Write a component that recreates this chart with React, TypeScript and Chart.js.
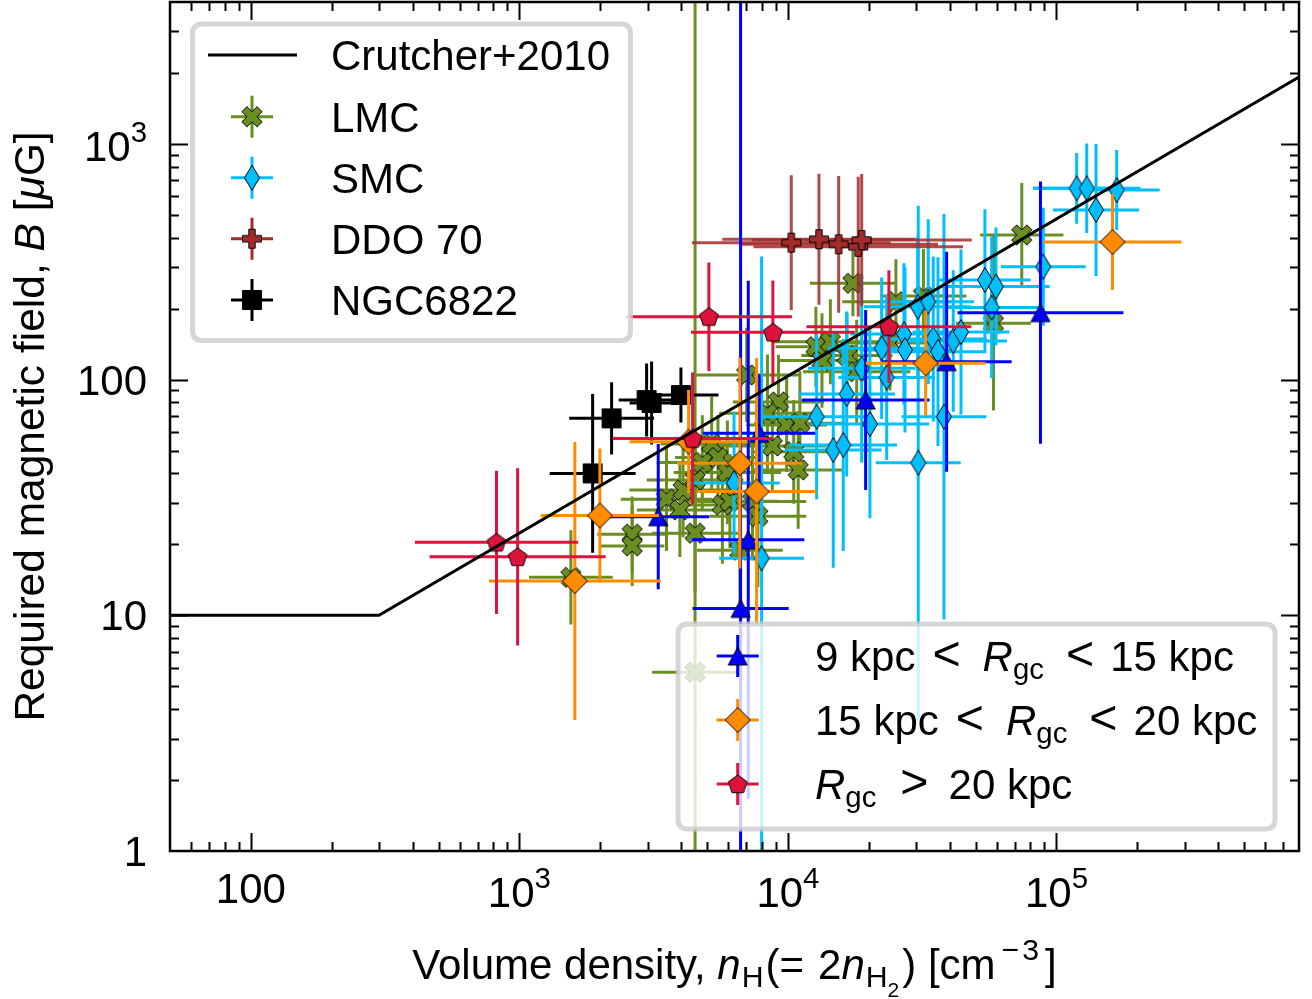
import React, { useEffect, useRef } from "react";
import { Chart, registerables } from "chart.js";
Chart.register(...registerables);

// ---------- axis ranges & ticks ----------
const X_MIN = 50;
const X_MAX = 800000;
const Y_MIN = 1;
const Y_MAX = 4000;
const xTicks = [100, 1000, 10000, 100000];
const xTickLabels = ["100", "10^3", "10^4", "10^5"];
const yTicks = [1, 10, 100, 1000];
const yTickLabels = ["1", "10", "100", "10^3"];

// ---------- Crutcher+2010 relation ----------
const crutcherN = [50, 300, 800000];
const crutcherB = [10, 10, 1923];

// ---------- LMC ----------
const lmcN = [2630, 2630, 3530, 3960, 4070, 4510, 4510, 4800, 5200, 5490, 5950, 5700, 6080, 6620, 7380, 7730, 7020, 9220, 8390, 9890, 11080, 8750, 10510, 10920, 12710, 14390, 13390, 16590, 18030, 17460, 25240, 31960, 58270, 74270, 4510, 23990, 1555];
const lmcB = [22.1, 19.7, 31.1, 28.0, 34.0, 22.3, 37.5, 44.5, 53.3, 46.7, 40.4, 29.4, 30.5, 18.9, 30.4, 26.3, 104.6, 80.4, 71.9, 64.2, 65.3, 52.3, 49.4, 41.4, 137.9, 144.8, 120.5, 126.5, 108.0, 256.2, 214.1, 226.2, 173.3, 410.8, 5.73, 142.9, 14.5];
const lmcErrN = [0.13, 0.12, 0.17, 0.16, 0.2, 0.16, 0.18, 0.17, 0.19, 0.16, 0.2, 0.15, 0.18, 0.16, 0.2, 0.18, 0.2, 0.17, 0.18, 0.15, 0.17, 0.2, 0.16, 0.17, 0.15, 0.22, 0.16, 0.17, 0.2, 0.16, 0.2, 0.16, 0.14, 0.155, 0.16, 0.18, 0.156];
const lmcErrB = [0.16, 0.17, 0.22, 0.2, 0.2, 0.25, 0.22, 0.2, 0.2, 0.18, 0.22, 0.25, 0.2, 0.22, 0.25, 0.3, 0.2, 0.2, 0.25, 0.2, 0.22, 0.2, 0.22, 0.25, 0.17, 0.18, 0.2, 0.18, 0.22, 0.14, 0.18, 0.2, 0.37, 0.22, 3, 0.2, 0.2];

// ---------- SMC ----------
const smcN = [6300, 7980, 12790, 14750, 16070, 16550, 18820, 20200, 22330, 23320, 27040, 27280, 30440, 33300, 30570, 34760, 36200, 38110, 41270, 44100, 54150, 59510, 57360, 89290, 118900, 129600, 140350, 167600];
const smcB = [36.4, 17.45, 69.6, 50.3, 52.8, 86.9, 111.7, 64.8, 135.8, 102.1, 156.1, 133.6, 203.8, 214.1, 44.4, 148.7, 131.4, 69.6, 145.8, 159.2, 264.6, 248.3, 202.2, 301.3, 648, 648, 524.3, 637.4];
const smcErrN = [0.17, 0.158, 0.2, 0.18, 0.2, 0.18, 0.2, 0.22, 0.2, 0.18, 0.2, 0.17, 0.2, 0.17, 0.158, 0.2, 0.18, 0.158, 0.2, 0.18, 0.17, 0.2, 0.18, 0.158, 0.16, 0.2, 0.16, 0.16];
const smcErrB = [0.3, 1.28, 0.35, 0.5, 0.45, 0.35, 0.4, 0.4, 0.3, 0.35, 0.3, 0.35, 0.3, 0.35, 1.09, 0.35, 0.4, 0.86, 0.3, 0.35, 0.3, 0.25, 0.3, 0.25, 0.15, 0.19, 0.28, 0.17];

// ---------- DDO 70 ----------
const ddoN = [10290, 13050, 15450, 18270, 18820];
const ddoB = [381, 394, 375, 366, 391];
const ddoErrN = [0.37, 0.36, 0.37, 0.39, 0.41];
const ddoErrB = [0.286, 0.278, 0.29, 0.297, 0.28];

// ---------- NGC6822 ----------
const ngcN = [1874, 2205, 2977, 3107, 3995];
const ngcB = [40.0, 68.5, 81.9, 79.6, 86.0];
const ngcErrN = [0.16, 0.158, 0.104, 0.082, 0.14];
const ngcErrB = [0.337, 0.153, 0.155, 0.176, 0.117];

// ---------- 9 kpc < Rgc < 15 kpc ----------
const innerN = [3289, 6664, 7116, 7818, 19470, 38990, 87170];
const innerB = [26.2, 10.7, 20.9, 59.2, 81.9, 119.1, 192.3];
const innerErrN = [0.19, 0.179, 0.209, 0.209, 0.238, 0.242, 0.309];
const innerErrB = [0.308, 2.7, 1.099, 0.25, 0.382, 0.467, 0.556];

// ---------- 15 kpc < Rgc < 20 kpc ----------
const midN = [1609, 1994, 4267, 6622, 7645, 32570, 161700];
const midB = [13.98, 26.5, 54.5, 44.2, 33.5, 117.3, 383.6];
const midErrN = [0.32, 0.22, 0.22, 0.233, 0.224, 0.223, 0.257];
const midErrB = [0.59, 0.284, 0.22, 0.447, 0.567, 0.223, 0.204];

// ---------- Rgc > 20 kpc ----------
const outerN = [822, 985, 4416, 5079, 8790, 23770];
const outerB = [20.4, 17.7, 56.2, 184.9, 158.7, 167.7];
const outerErrN = [0.304, 0.328, 0.298, 0.309, 0.305, 0.307];
const outerErrB = [0.304, 0.376, 0.28, 0.23, 0.22, 0.239];

const legend1Labels = ["Crutcher+2010", "LMC", "SMC", "DDO 70", "NGC6822"];

const FONT = '"Liberation Sans", Arial, Helvetica, sans-serif';
const FS = 42;

const C_LMC = "#6B8E23";
const C_SMC = "#00BFFF";
const C_DDO = "#A52A2A";
const C_NGC = "#000000";
const C_IN = "#0000FF";
const C_MID = "#FF8C00";
const C_OUT = "#DC143C";

type Seg = { t: string; it?: boolean; s?: number; dy?: number; gap?: number };

function setFont(ctx: CanvasRenderingContext2D, size: number, it?: boolean) {
  ctx.font = `${it ? "italic " : ""}${size}px ${FONT}`;
}
function segW(ctx: CanvasRenderingContext2D, g: Seg, size: number) {
  setFont(ctx, size * (g.s ?? 1), g.it);
  return ctx.measureText(g.t).width + (g.gap ?? 0);
}
function drawRich(ctx: CanvasRenderingContext2D, segs: Seg[], x: number, y: number, size: number, align: string) {
  let w = 0;
  for (const g of segs) w += segW(ctx, g, size);
  let cx = align === "center" ? x - w / 2 : align === "right" ? x - w : x;
  ctx.textAlign = "left";
  ctx.textBaseline = "alphabetic";
  for (const g of segs) {
    setFont(ctx, size * (g.s ?? 1), g.it);
    ctx.fillText(g.t, cx, y - (g.dy ?? 0) * size);
    cx += ctx.measureText(g.t).width + (g.gap ?? 0);
  }
}
function tickSegs(label: string): Seg[] {
  const parts = label.split("^");
  if (parts.length === 1) return [{ t: label }];
  return [{ t: parts[0] }, { t: parts[1], s: 0.7, dy: 0.45 }];
}

function makeMarker(kind: string, fill: string): HTMLCanvasElement {
  const S = 32;
  const c = document.createElement("canvas");
  c.width = S;
  c.height = S;
  const g = c.getContext("2d")!;
  g.translate(S / 2, S / 2);
  g.beginPath();
  const poly = (pts: number[][]) => {
    pts.forEach(([a, b], i) => (i ? g.lineTo(a, b) : g.moveTo(a, b)));
    g.closePath();
  };
  const plus = [[-1, -3], [-1, -1], [-3, -1], [-3, 1], [-1, 1], [-1, 3], [1, 3], [1, 1], [3, 1], [3, -1], [1, -1], [1, -3]];
  if (kind === "X") {
    const s = 21.5 / 6, r = Math.SQRT1_2;
    poly(plus.map(([a, b]) => [(a - b) * r * s, (a + b) * r * s]));
  } else if (kind === "P") {
    const s = 19 / 6;
    poly(plus.map(([a, b]) => [a * s, b * s]));
  } else if (kind === "d") {
    poly([[0, -12.5], [7.5, 0], [0, 12.5], [-7.5, 0]]);
  } else if (kind === "D") {
    poly([[0, -12.5], [12.5, 0], [0, 12.5], [-12.5, 0]]);
  } else if (kind === "^") {
    poly([[0, -9], [9.5, 9], [-9.5, 9]]);
  } else if (kind === "p") {
    const R = 9.8;
    const pts: number[][] = [];
    for (let k = 0; k < 5; k++) {
      const a = -Math.PI / 2 + (k * 2 * Math.PI) / 5;
      pts.push([R * Math.cos(a), R * Math.sin(a) + 0.8]);
    }
    poly(pts);
  } else if (kind === "s") {
    poly([[-9.5, -9.5], [9.5, -9.5], [9.5, 9.5], [-9.5, 9.5]]);
  }
  g.fillStyle = fill;
  g.fill();
  g.lineWidth = 1;
  g.strokeStyle = "#000";
  g.stroke();
  return c;
}

function roundRectPath(ctx: CanvasRenderingContext2D, l: number, t: number, r: number, b: number, rad: number) {
  ctx.beginPath();
  ctx.moveTo(l + rad, t);
  ctx.lineTo(r - rad, t);
  ctx.quadraticCurveTo(r, t, r, t + rad);
  ctx.lineTo(r, b - rad);
  ctx.quadraticCurveTo(r, b, r - rad, b);
  ctx.lineTo(l + rad, b);
  ctx.quadraticCurveTo(l, b, l, b - rad);
  ctx.lineTo(l, t + rad);
  ctx.quadraticCurveTo(l, t, l + rad, t);
  ctx.closePath();
}

function legendBox(ctx: CanvasRenderingContext2D, l: number, t: number, r: number, b: number) {
  ctx.save();
  roundRectPath(ctx, l, t, r, b, 10);
  ctx.fillStyle = "rgba(255,255,255,0.8)";
  ctx.fill();
  ctx.lineWidth = 5;
  ctx.strokeStyle = "rgba(204,204,204,0.8)";
  ctx.stroke();
  ctx.restore();
}

function legendMarker(ctx: CanvasRenderingContext2D, cx: number, cy: number, color: string, img: HTMLCanvasElement) {
  ctx.save();
  ctx.strokeStyle = color;
  ctx.lineWidth = 3;
  ctx.beginPath();
  ctx.moveTo(cx - 21, cy);
  ctx.lineTo(cx + 21, cy);
  ctx.moveTo(cx, cy - 21);
  ctx.lineTo(cx, cy + 21);
  ctx.stroke();
  ctx.drawImage(img, cx - img.width / 2, cy - img.height / 2);
  ctx.restore();
}

const errorBarPlugin = {
  id: "errbars",
  beforeDatasetDraw(chart: any, args: any) {
    const ds = chart.data.datasets[args.index];
    if (!ds.errN) return;
    const { ctx, chartArea: a } = chart;
    const xs = chart.scales.x, ys = chart.scales.y;
    ctx.save();
    ctx.beginPath();
    ctx.rect(a.left, a.top, a.right - a.left, a.bottom - a.top);
    ctx.clip();
    ctx.strokeStyle = ds.barColor;
    ctx.lineWidth = 3;
    ds.data.forEach((p: any, i: number) => {
      const fx = Math.pow(10, ds.errN[i]);
      const fy = Math.pow(10, ds.errB[i]);
      const px = xs.getPixelForValue(p.x);
      const py = ys.getPixelForValue(p.y);
      ctx.beginPath();
      ctx.moveTo(xs.getPixelForValue(p.x / fx), py);
      ctx.lineTo(xs.getPixelForValue(p.x * fx), py);
      ctx.moveTo(px, ys.getPixelForValue(p.y * fy));
      ctx.lineTo(px, ys.getPixelForValue(p.y / fy));
      ctx.stroke();
    });
    ctx.restore();
  },
};

function makeDecorPlugin(mk: Record<string, HTMLCanvasElement>) {
  return {
    id: "decor",
    afterDraw(chart: any) {
      const { ctx, chartArea: a } = chart;
      const xs = chart.scales.x, ys = chart.scales.y;
      ctx.save();
      // ticks
      ctx.strokeStyle = "#000";
      ctx.lineWidth = 2;
      ctx.beginPath();
      for (let d = 1; d <= 5; d++) {
        for (let m = 1; m <= 9; m++) {
          const v = m * Math.pow(10, d);
          if (v < X_MIN * 1.001 || v > X_MAX * 0.999) continue;
          const px = Math.round(xs.getPixelForValue(v)) + 0.5;
          const len = m === 1 ? 18 : 9;
          ctx.moveTo(px, a.bottom);
          ctx.lineTo(px, a.bottom - len);
          ctx.moveTo(px, a.top);
          ctx.lineTo(px, a.top + len);
        }
      }
      for (let d = 0; d <= 3; d++) {
        for (let m = 1; m <= 9; m++) {
          const v = m * Math.pow(10, d);
          if (v < Y_MIN * 1.001 || v > Y_MAX * 0.999) continue;
          const py = Math.round(ys.getPixelForValue(v)) + 0.5;
          const len = m === 1 ? 18 : 9;
          ctx.moveTo(a.left, py);
          ctx.lineTo(a.left + len, py);
          ctx.moveTo(a.right, py);
          ctx.lineTo(a.right - len, py);
        }
      }
      ctx.stroke();
      // frame
      ctx.lineWidth = 2.5;
      ctx.strokeRect(a.left, a.top, a.right - a.left, a.bottom - a.top);

      // tick labels
      ctx.fillStyle = "#000";
      xTicks.forEach((v, i) => {
        const segs = tickSegs(xTickLabels[i]);
        const base = segs.length > 1 ? 907 : 903;
        drawRich(ctx, segs, xs.getPixelForValue(v), base, FS, "center");
      });
      yTicks.forEach((v, i) => {
        const segs = tickSegs(yTickLabels[i]);
        const py = ys.getPixelForValue(v);
        drawRich(ctx, segs, 147, py + (segs.length > 1 ? 17 : 15), FS, "right");
      });

      // axis titles
      const xTitle: Seg[] = [
        { t: "Volume density, " },
        { t: "n", it: true, gap: 1 },
        { t: "H", s: 0.72, dy: -0.2, gap: 2 },
        { t: "(=", gap: 14 },
        { t: "2" },
        { t: "n", it: true, gap: 1 },
        { t: "H", s: 0.72, dy: -0.2 },
        { t: "2", s: 0.5, dy: -0.42, gap: 3 },
        { t: ") [cm", gap: 6 },
        { t: "\u2212", s: 0.72, dy: 0.45, gap: 3 },
        { t: "3", s: 0.72, dy: 0.45, gap: 6 },
        { t: "]" },
      ];
      drawRich(ctx, xTitle, (a.left + a.right) / 2, 979, FS, "center");
      const yTitle: Seg[] = [
        { t: "Required magnetic field, " },
        { t: "B", it: true },
        { t: " [" },
        { t: "\u03bc", it: true },
        { t: "G]" },
      ];
      ctx.save();
      ctx.translate(44, (a.top + a.bottom) / 2);
      ctx.rotate(-Math.PI / 2);
      drawRich(ctx, yTitle, 0, 0, 42.5, "center");
      ctx.restore();

      // legend 1
      legendBox(ctx, 192.5, 24, 630.5, 340.5);
      ctx.strokeStyle = "#000";
      ctx.lineWidth = 3;
      ctx.beginPath();
      ctx.moveTo(208, 55);
      ctx.lineTo(297, 55);
      ctx.stroke();
      legendMarker(ctx, 252, 116.7, C_LMC, mk.lmc);
      legendMarker(ctx, 252, 177.7, C_SMC, mk.smc);
      legendMarker(ctx, 252, 238.7, C_DDO, mk.ddo);
      legendMarker(ctx, 252, 300, C_NGC, mk.ngc);
      ctx.fillStyle = "#000";
      const rows1 = [55, 116.7, 177.7, 238.7, 300];
      legend1Labels.forEach((lab, i) => drawRich(ctx, [{ t: lab }], 331, rows1[i] + 15, FS, "left"));

      // legend 2
      legendBox(ctx, 678, 624, 1275, 829);
      legendMarker(ctx, 737.7, 656, C_IN, mk.inner);
      legendMarker(ctx, 737.7, 720, C_MID, mk.mid);
      legendMarker(ctx, 737.7, 784, C_OUT, mk.outer);
      ctx.fillStyle = "#000";
      const lt = (g: number): Seg => ({ t: "<", s: 1.15, dy: 0.02, gap: g });
      const l2a: Seg[] = [{ t: "9 kpc", gap: 17 }, lt(22), { t: "R", it: true }, { t: "gc", s: 0.7, dy: -0.2, gap: 22 }, lt(16), { t: "15 kpc" }];
      const l2b: Seg[] = [{ t: "15 kpc", gap: 17 }, lt(22), { t: "R", it: true }, { t: "gc", s: 0.7, dy: -0.2, gap: 22 }, lt(16), { t: "20 kpc" }];
      const l2c: Seg[] = [{ t: "R", it: true }, { t: "gc", s: 0.7, dy: -0.2, gap: 24 }, { t: ">", s: 1.15, dy: 0.02, gap: 20 }, { t: "20 kpc" }];
      drawRich(ctx, l2a, 815, 656 + 15, FS, "left");
      drawRich(ctx, l2b, 815, 720 + 15, FS, "left");
      drawRich(ctx, l2c, 815, 784 + 15, FS, "left");
      ctx.restore();
    },
  };
}

export default function App() {
  const ref = useRef<HTMLCanvasElement>(null);
  useEffect(() => {
    const canvas = ref.current!;
    const mk: Record<string, HTMLCanvasElement> = {
      lmc: makeMarker("X", C_LMC),
      smc: makeMarker("d", C_SMC),
      ddo: makeMarker("P", C_DDO),
      ngc: makeMarker("s", C_NGC),
      inner: makeMarker("^", C_IN),
      mid: makeMarker("D", C_MID),
      outer: makeMarker("p", C_OUT),
    };
    const group = (label: string, N: number[], B: number[], eN: number[], eB: number[], img: HTMLCanvasElement, barColor: string, order: number) => ({
      label,
      data: N.map((n, i) => ({ x: n, y: B[i] })),
      pointStyle: img,
      pointRadius: 2,
      showLine: false,
      order,
      errN: eN,
      errB: eB,
      barColor,
    });
    const chart = new Chart(canvas, {
      type: "scatter",
      data: {
        datasets: [
          {
            label: "Crutcher+2010",
            data: crutcherN.map((n, i) => ({ x: n, y: crutcherB[i] })),
            showLine: true,
            borderColor: "#000",
            borderWidth: 3,
            pointRadius: 0,
            tension: 0,
            order: 0,
          } as any,
          group("LMC", lmcN, lmcB, lmcErrN, lmcErrB, mk.lmc, C_LMC, 9),
          group("SMC", smcN, smcB, smcErrN, smcErrB, mk.smc, C_SMC, 8),
          group("DDO 70", ddoN, ddoB, ddoErrN, ddoErrB, mk.ddo, "rgba(165,42,42,0.85)", 7),
          group("NGC6822", ngcN, ngcB, ngcErrN, ngcErrB, mk.ngc, C_NGC, 6),
          group("9-15 kpc", innerN, innerB, innerErrN, innerErrB, mk.inner, C_IN, 5),
          group("15-20 kpc", midN, midB, midErrN, midErrB, mk.mid, C_MID, 4),
          group(">20 kpc", outerN, outerB, outerErrN, outerErrB, mk.outer, C_OUT, 3),
        ],
      },
      options: {
        animation: false,
        responsive: false,
        devicePixelRatio: 1,
        events: [],
        layout: { autoPadding: false, padding: { left: 170, right: 13, top: 2, bottom: 148 } },
        plugins: { legend: { display: false }, tooltip: { enabled: false } },
        scales: {
          x: { type: "logarithmic", min: X_MIN, max: X_MAX, display: false },
          y: { type: "logarithmic", min: Y_MIN, max: Y_MAX, display: false },
        },
      },
      plugins: [errorBarPlugin, makeDecorPlugin(mk)],
    } as any);
    return () => chart.destroy();
  }, []);
  return (
    <div style={{ position: "absolute", left: 0, top: 0, width: 1312, height: 999, background: "#fff" }}>
      <canvas ref={ref} width={1312} height={999} style={{ display: "block" }} />
    </div>
  );
}
